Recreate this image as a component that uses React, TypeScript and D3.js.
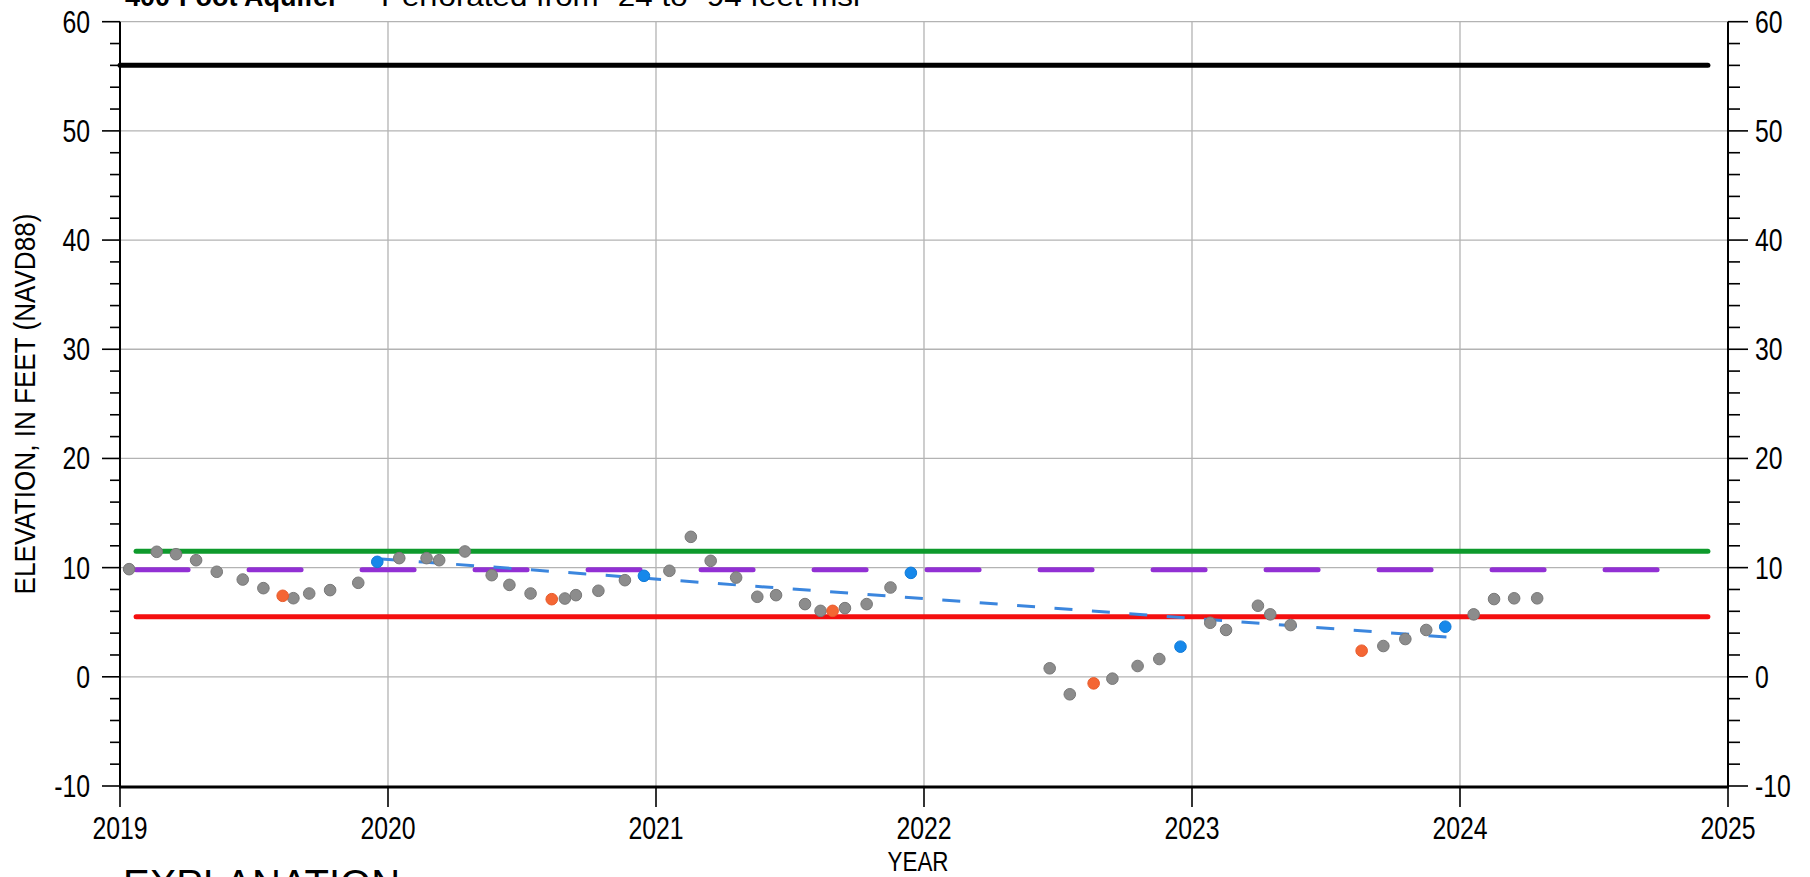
import React from "react";
import * as d3 from "d3";

// ---- data ----
const yearTicks = [2019, 2020, 2021, 2022, 2023, 2024, 2025];
const elevTicks = [-10, 0, 10, 20, 30, 40, 50, 60];
const minorElevTicks = d3.range(-10, 61, 2);

// measured water levels: [decimal year, elevation ft]
const grayYears = [
  2019.034, 2019.137, 2019.209, 2019.284, 2019.361, 2019.458, 2019.535, 2019.647, 2019.706, 2019.784, 2019.889,
  2020.042, 2020.144, 2020.191, 2020.287, 2020.387, 2020.453, 2020.532, 2020.66, 2020.701, 2020.785, 2020.884,
  2021.05, 2021.13, 2021.204, 2021.299, 2021.378, 2021.448, 2021.556, 2021.614, 2021.705, 2021.786, 2021.875,
  2022.469, 2022.544, 2022.703, 2022.797, 2022.878,
  2023.068, 2023.127, 2023.246, 2023.292, 2023.368, 2023.714, 2023.796, 2023.874,
  2024.051, 2024.127, 2024.202, 2024.288,
];
const grayValues = [
  9.86, 11.45, 11.23, 10.68, 9.62, 8.91, 8.12, 7.2, 7.63, 7.94, 8.61,
  10.87, 10.87, 10.68, 11.48, 9.31, 8.42, 7.63, 7.17, 7.48, 7.88, 8.85,
  9.71, 12.82, 10.62, 9.09, 7.33, 7.48, 6.66, 6.04, 6.29, 6.66, 8.18,
  0.78, -1.6, -0.17, 0.99, 1.63,
  4.95, 4.29, 6.51, 5.72, 4.74, 2.82, 3.46, 4.29,
  5.72, 7.12, 7.19, 7.19,
];
const orangeYears = [2019.607, 2020.611, 2021.659, 2022.633, 2023.633];
const orangeValues = [7.42, 7.11, 6.04, -0.6, 2.39];
const blueYears = [2019.96, 2020.955, 2021.951, 2022.957, 2023.945];
const blueValues = [10.53, 9.25, 9.52, 2.76, 4.59];

// trend line
const trendYears = [2019.975, 2023.95];
const trendValues = [10.8, 3.65];

// reference levels
const levelNames = ["black", "green", "purple", "red"];
const levelValues = [56, 11.5, 9.8, 5.5];
const levelStart = [2019.0, 2019.06, 2019.06, 2019.06];
const levelEnd = [2024.925, 2024.925, 2024.74, 2024.925];

const W = 1810;
const H = 877;
const x = d3.scaleLinear().domain([2019, 2025]).range([120, 1728]);
const y = d3.scaleLinear().domain([-10, 60]).range([786, 21.7]);

const levelColors: Record<string, string> = {
  black: "#000000",
  green: "#0e9a2c",
  purple: "#9230d4",
  red: "#f40f0f",
};

const sans = "'Liberation Sans', Arial, sans-serif";

function NText(props: {
  x: number;
  y: number;
  size: number;
  anchor?: "start" | "middle" | "end";
  sx?: number;
  rotate?: number;
  children: React.ReactNode;
}) {
  const sx = props.sx ?? 0.8;
  const rot = props.rotate ? ` rotate(${props.rotate})` : "";
  return (
    <text
      transform={`translate(${props.x},${props.y})${rot} scale(${sx},1)`}
      textAnchor={props.anchor ?? "start"}
      fontFamily={sans}
      fontSize={props.size}
      fill="#000"
    >
      {props.children}
    </text>
  );
}

export default function App() {
  const lineGen = d3
    .line<[number, number]>()
    .x((d) => x(d[0]))
    .y((d) => y(d[1]));
  const trend = lineGen(trendYears.map((t, i) => [t, trendValues[i]] as [number, number])) || "";

  return (
    <svg
      width={W}
      height={H}
      viewBox={`0 0 ${W} ${H}`}
      style={{ position: "absolute", left: 0, top: 0, background: "#fff" }}
    >
      <rect x={0} y={0} width={W} height={H} fill="#fff" />
      {/* title (cropped at top in the reference) */}
      <text x={125} y={6} fontFamily={sans} fontSize={27} fontWeight="bold" fill="#000">
        400-Foot Aquifer
      </text>
      <text x={381} y={6} fontFamily={sans} fontSize={27} fill="#000" textLength={479} lengthAdjust="spacingAndGlyphs">
        Perforated from -24 to -94 feet msl
      </text>

      {/* grid */}
      {yearTicks.slice(1, -1).map((t) => (
        <line key={"gx" + t} x1={x(t)} x2={x(t)} y1={y(60)} y2={y(-10)} stroke="#b3b3b3" strokeWidth={1.3} />
      ))}
      {elevTicks.slice(1).map((t) => (
        <line key={"gy" + t} x1={x(2019)} x2={x(2025)} y1={y(t)} y2={y(t)} stroke="#b3b3b3" strokeWidth={1.3} />
      ))}

      {/* reference levels */}
      {levelNames.map((n, i) => (
        <line
          key={n}
          x1={x(levelStart[i])}
          x2={x(levelEnd[i])}
          y1={y(levelValues[i])}
          y2={y(levelValues[i])}
          stroke={levelColors[n]}
          strokeWidth={5}
          strokeLinecap="round"
          strokeDasharray={n === "purple" ? "52 61" : undefined}
        />
      ))}

      {/* trend */}
      <path d={trend} fill="none" stroke="#3b86de" strokeWidth={3} strokeDasharray="18 19.5" />

      {/* points */}
      {grayYears.map((t, i) => (
        <circle key={"g" + i} cx={x(t)} cy={y(grayValues[i])} r={5.8} fill="#8c8c8c" stroke="#787878" strokeWidth={1} />
      ))}
      {orangeYears.map((t, i) => (
        <circle key={"o" + i} cx={x(t)} cy={y(orangeValues[i])} r={5.8} fill="#f46634" stroke="#e85a2a" strokeWidth={1} />
      ))}
      {blueYears.map((t, i) => (
        <circle key={"b" + i} cx={x(t)} cy={y(blueValues[i])} r={5.8} fill="#1688ea" stroke="#0f7ad8" strokeWidth={1} />
      ))}

      {/* axes */}
      <line x1={x(2019)} x2={x(2019)} y1={y(60)} y2={y(-10) + 2} stroke="#000" strokeWidth={2} />
      <line x1={x(2025)} x2={x(2025)} y1={y(60)} y2={y(-10) + 2} stroke="#000" strokeWidth={2} />
      <line x1={x(2019) - 1} x2={x(2025) + 1} y1={y(-10) + 1} y2={y(-10) + 1} stroke="#000" strokeWidth={3} />

      {minorElevTicks.map((t) => {
        const major = t % 10 === 0;
        return (
          <g key={"t" + t}>
            <line x1={x(2019) - (major ? 18 : 10)} x2={x(2019)} y1={y(t)} y2={y(t)} stroke="#000" strokeWidth={1.6} />
            <line x1={x(2025)} x2={x(2025) + (major ? 20 : 12)} y1={y(t)} y2={y(t)} stroke="#000" strokeWidth={1.6} />
          </g>
        );
      })}
      {elevTicks.map((t) => (
        <g key={"l" + t}>
          <NText x={90} y={y(t) + 11} size={31} anchor="end">
            {t}
          </NText>
          <NText x={1755} y={y(t) + 11} size={31} anchor="start">
            {t}
          </NText>
        </g>
      ))}
      {yearTicks.map((t) => (
        <g key={"x" + t}>
          <line x1={x(t)} x2={x(t)} y1={y(-10)} y2={y(-10) + 21} stroke="#000" strokeWidth={1.6} />
          <NText x={x(t)} y={839} size={31} anchor="middle">
            {t}
          </NText>
        </g>
      ))}

      {/* axis titles */}
      <NText x={35} y={404} size={29} anchor="middle" rotate={-90} sx={0.9}>
        ELEVATION, IN FEET (NAVD88)
      </NText>
      <NText x={918} y={871} size={28} anchor="middle" sx={0.8}>
        YEAR
      </NText>
      <text x={123} y={898} fontFamily={sans} fontSize={40} fill="#000">
        EXPLANATION
      </text>
    </svg>
  );
}
